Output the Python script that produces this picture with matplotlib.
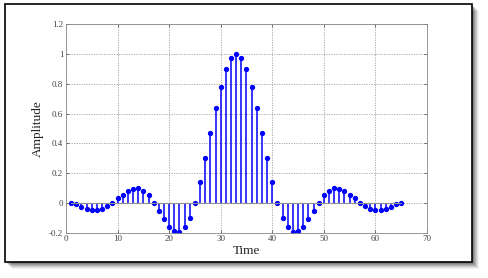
import numpy as np
import matplotlib
matplotlib.use("Agg")
import matplotlib.pyplot as plt
from matplotlib.patches import Rectangle

# sample index and amplitude
time = list(range(1, 66))
amplitude = [0, -0.01, -0.025, -0.04, -0.045, -0.045, -0.04, -0.02, 0,
             0.03, 0.055, 0.08, 0.095, 0.1, 0.08, 0.05, 0,
             -0.055, -0.11, -0.16, -0.19, -0.195, -0.165, -0.1, 0,
             0.14, 0.3, 0.47, 0.635, 0.78, 0.9, 0.975, 1.0,
             0.975, 0.9, 0.78, 0.635, 0.47, 0.3, 0.14, 0,
             -0.1, -0.165, -0.195, -0.19, -0.16, -0.11, -0.055, 0,
             0.05, 0.08, 0.1, 0.095, 0.08, 0.055, 0.03, 0,
             -0.02, -0.04, -0.045, -0.045, -0.04, -0.025, -0.01, 0]
xticks = [0, 10, 20, 30, 40, 50, 60, 70]
yticks = [-0.2, 0, 0.2, 0.4, 0.6, 0.8, 1, 1.2]
ytick_labels = ["-0.2", "0", "0.2", "0.4", "0.6", "0.8", "1", "1.2"]

plt.rcParams['font.family'] = ['Liberation Serif', 'DejaVu Serif']

W, H = 488, 278
fig = plt.figure(figsize=(W / 100, H / 100), dpi=100)
fig.patch.set_facecolor('white')

# soft shadow behind the card
for i, a in enumerate([0.05, 0.07, 0.09, 0.11, 0.13, 0.15]):
    off = 7 - i
    fig.patches.append(Rectangle(((5 + off) / W, (H - 262 - off) / H),
                                 467 / W, 258 / H, transform=fig.transFigure,
                                 facecolor='black', alpha=a, edgecolor='none',
                                 zorder=0))
# card with black border
fig.patches.append(Rectangle((5 / W, (H - 262) / H), 467 / W, 258 / H,
                             transform=fig.transFigure, facecolor='white',
                             edgecolor='black', linewidth=1.2, zorder=1))

ax = fig.add_axes([66 / W, (H - 232.7) / H, (427 - 66) / W, (232.7 - 24.3) / H])
ax.set_zorder(2)

markerline, stemlines, baseline = ax.stem(time, amplitude, basefmt='-')
plt.setp(markerline, color='#0000ff', markersize=2.8)
plt.setp(stemlines, color='#0000ff', linewidth=1.1)
plt.setp(baseline, color='#909090', linewidth=0.8)

ax.set_xlim(0, 70)
ax.set_ylim(-0.2, 1.2)
ax.set_xticks(xticks)
ax.set_yticks(yticks)
ax.set_yticklabels(ytick_labels)
ax.tick_params(direction='in', labelsize=6.5, length=2.5, width=0.5,
               colors='#444444', pad=2, top=True, right=True)
ax.grid(True, linestyle=(0, (1.5, 1.5)), color='#a0a0a0', linewidth=0.6)
for s in ax.spines.values():
    s.set_color('#888888')
    s.set_linewidth(0.6)

ax.set_xlabel('Time', fontsize=9.5, labelpad=1, color='#222222')
ax.set_ylabel('Amplitude', fontsize=9.5, labelpad=4, color='#222222')

fig.savefig('out.png', dpi=100)
